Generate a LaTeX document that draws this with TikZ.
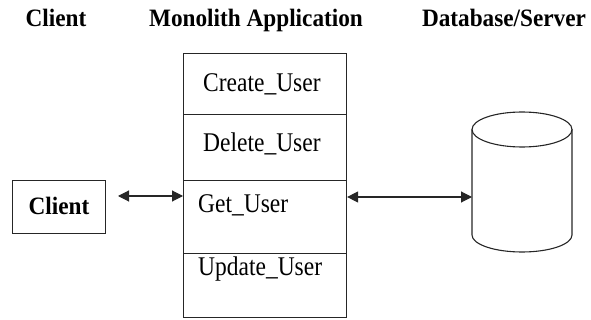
\documentclass[tikz,border=0pt]{standalone}
\usepackage{fontspec}
\usepackage{graphicx}
\setmainfont{Liberation Serif}
\usetikzlibrary{arrows.meta}
\newcommand\ttltext[1]{\scalebox{0.93}[1]{#1}}
\newcommand\bdytext[1]{\scalebox{0.87}[1]{#1}}
\begin{document}
\begin{tikzpicture}[x=1pt,y=-1pt,
  line/.style={draw=black!85,line width=1.1pt},
  cell/.style={line,minimum width=163pt,inner sep=0pt,anchor=north west},
  title/.style={font=\fontsize{25}{27}\selectfont\bfseries,inner sep=0pt},
  body/.style={font=\fontsize{27}{29}\selectfont,inner sep=0pt,anchor=base west},
  conn/.style={line,{Triangle[length=11pt,width=11pt]}-{Triangle[length=11pt,width=11pt]}}]
\useasboundingbox (0,0) rectangle (591,320);
% titles
\node[title,anchor=base] (t1) at (56,27) {\ttltext{Client}};
\node[title,anchor=base] (t2) at (256,27) {\ttltext{Monolith Application}};
\node[title,anchor=base] (t3) at (504,27) {\ttltext{Database/Server}};
% client box
\node[line,minimum width=93pt,minimum height=53pt,inner sep=0pt,anchor=north west] (client) at (12,180) {};
\node[title,anchor=base] (cl) at (59,215) {\ttltext{Client}};
% monolith cells
\node[cell,minimum height=61pt] (c1) at (183,53) {};
\node[cell,minimum height=66pt] (c2) at (183,114) {};
\node[cell,minimum height=73pt] (c3) at (183,180) {};
\node[cell,minimum height=64pt] (c4) at (183,253) {};
\node[body] (l1) at (203,92) {\bdytext{Create\_User}};
\node[body] (l2) at (203,152) {\bdytext{Delete\_User}};
\node[body] (l3) at (198,213) {\bdytext{Get\_User}};
\node[body] (l4) at (198,275) {\bdytext{Update\_User}};
% database cylinder
\coordinate (dbw) at (472,197);
\draw[line] (472,129.5) -- (472,235) arc[start angle=180,end angle=0,x radius=50,y radius=17] -- (572,129.5);
\draw[line] (522,129.5) ellipse[x radius=50,y radius=17.5];
% connectors
\coordinate (a1) at (118,196);
\draw[conn] (a1) -- (c3.west |- a1);
\draw[conn] (c3.east |- dbw) -- (dbw);
\end{tikzpicture}
\end{document}
